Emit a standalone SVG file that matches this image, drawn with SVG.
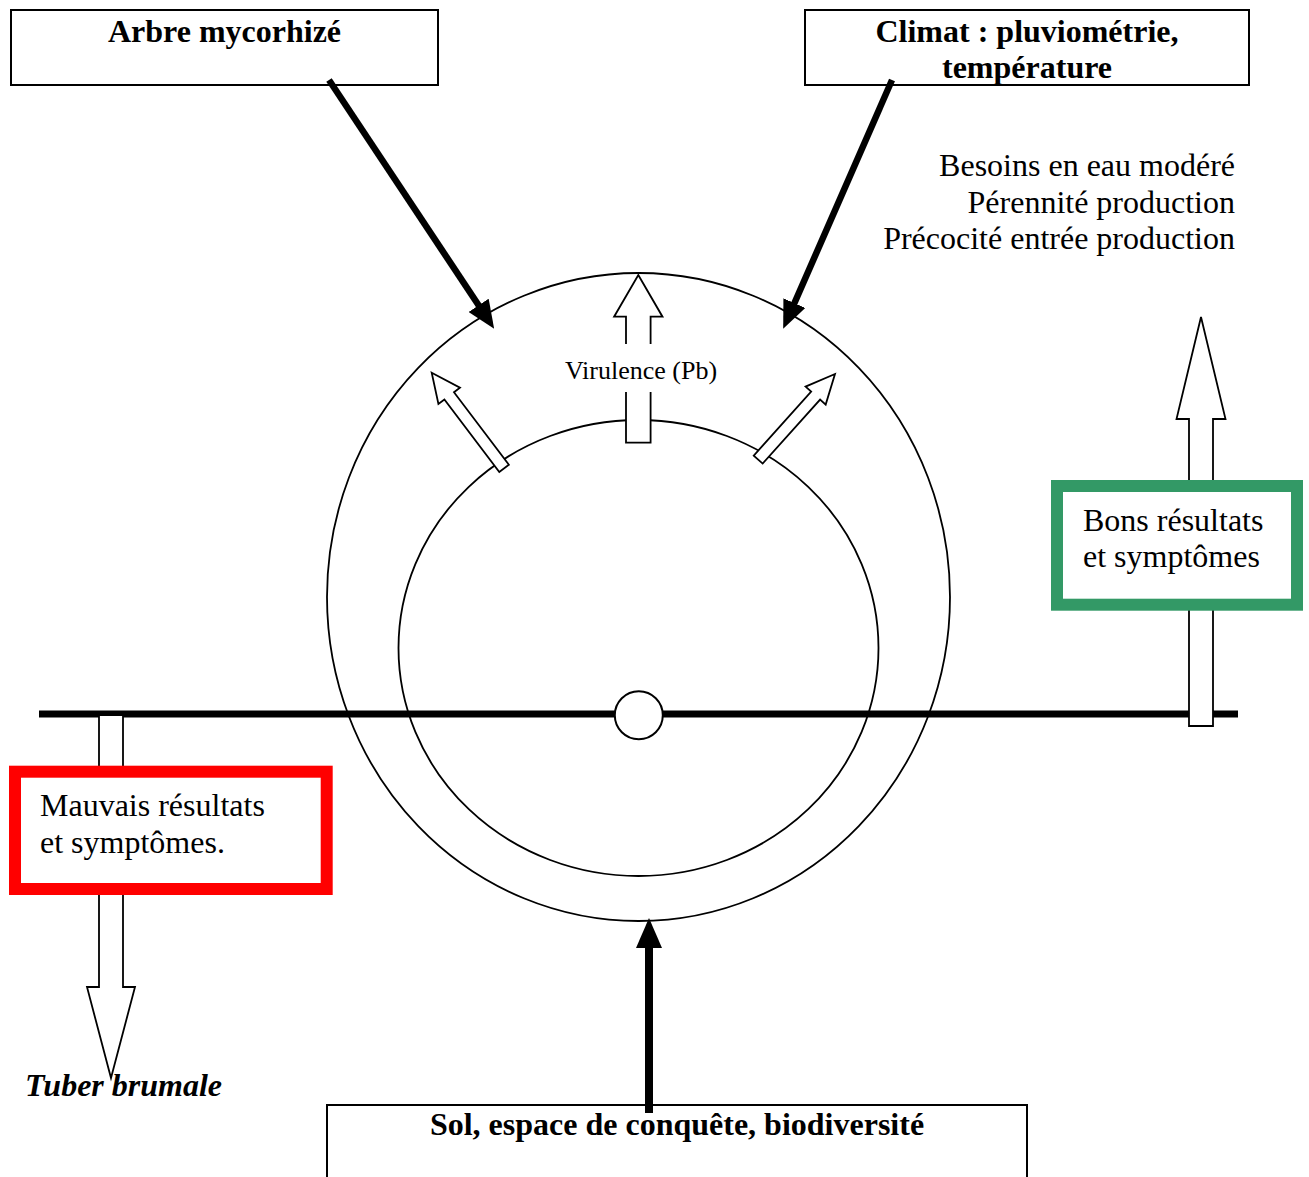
<svg xmlns="http://www.w3.org/2000/svg" width="1309" height="1177" viewBox="0 0 1309 1177">
<style>
  .box { fill: #fff; stroke: #000; stroke-width: 2; }
  .lbl { font-family: "Liberation Serif", "Times New Roman", serif; font-size: 32px; fill: #000; }
  .bold { font-weight: bold; }
  .ring { fill: none; stroke: #000; stroke-width: 1.8; }
  .hollow { fill: #fff; stroke: #000; stroke-width: 1.8; stroke-linejoin: miter; }
  .thick { stroke: #000; fill: none; }
</style>
<defs>
  <marker id="head" markerUnits="userSpaceOnUse" markerWidth="28" markerHeight="24" viewBox="0 0 28 24" refX="14" refY="12" orient="auto">
    <path d="M0,0 L28,12 L0,24 z" fill="#000"/>
  </marker>
  <marker id="headBig" markerUnits="userSpaceOnUse" markerWidth="30" markerHeight="26" viewBox="0 0 30 26" refX="16" refY="13" orient="auto">
    <path d="M0,0 L30,13 L0,26 z" fill="#000"/>
  </marker>
</defs>

<g id="cycle">
  <ellipse class="ring" cx="638.5" cy="597" rx="311.5" ry="324"/>
  <ellipse class="ring" cx="638.5" cy="648" rx="240" ry="228"/>
</g>

<g id="axis">
  <line x1="39" y1="714" x2="1238" y2="714" stroke="#000" stroke-width="7"/>
  <circle cx="638.8" cy="715.3" r="24" fill="#fff" stroke="#000" stroke-width="2"/>
</g>

<g id="virulence">
  <path class="hollow" transform="translate(638.3,275)" d="M0,0 L24.2,41.7 L12.3,41.7 L12.3,167.7 L-12.3,167.7 L-12.3,41.7 L-24.2,41.7 Z"/>
  <path class="hollow" transform="translate(431.7,372.7) rotate(-37.1)" d="M0,0 L13.5,29 L6,29 L6,120 L-6,120 L-6,29 L-13.5,29 Z"/>
  <path class="hollow" transform="translate(835,374) rotate(41.9)" d="M0,0 L13.5,29 L6,29 L6,115 L-6,115 L-6,29 L-13.5,29 Z"/>
  <rect x="618" y="344" width="40" height="48" fill="#fff"/>
  <text class="lbl" x="641" y="379" text-anchor="middle" style="font-size:26px">Virulence (Pb)</text>
</g>

<g id="arbre">
  <rect class="box" x="11" y="10" width="427" height="75"/>
  <text class="lbl bold" x="224.5" y="42" text-anchor="middle">Arbre mycorhizé</text>
</g>

<g id="climat">
  <rect class="box" x="805" y="10" width="444" height="75"/>
  <text class="lbl bold" x="1027" y="42" text-anchor="middle">Climat : pluviométrie,</text>
  <text class="lbl bold" x="1027" y="78" text-anchor="middle">température</text>
</g>

<g id="sol">
  <rect class="box" x="327" y="1105" width="700" height="100"/>
  <text class="lbl bold" x="677" y="1135" text-anchor="middle">Sol, espace de conquête, biodiversité</text>
</g>

<g id="connectors">
  <line class="thick" x1="329" y1="80" x2="486.4" y2="317" stroke-width="6.5" marker-end="url(#head)"/>
  <line class="thick" x1="892" y1="80" x2="788.8" y2="316" stroke-width="6.5" marker-end="url(#head)"/>
  <line class="thick" x1="649" y1="1113" x2="649" y2="932" stroke-width="8" marker-end="url(#headBig)"/>
  <path class="hollow" transform="translate(1201,317)" d="M0,0 L24.5,102 L12,102 L12,409 L-12,409 L-12,102 L-24.5,102 Z"/>
  <path class="hollow" transform="translate(111,1078) rotate(180)" d="M0,0 L24,91 L12,91 L12,363 L-12,363 L-12,91 L-24,91 Z"/>
</g>

<g id="objectifs">
  <text class="lbl" x="1235" y="176" text-anchor="end">Besoins en eau modéré</text>
  <text class="lbl" x="1235" y="212.5" text-anchor="end">Pérennité production</text>
  <text class="lbl" x="1235" y="249" text-anchor="end">Précocité entrée production</text>
</g>

<g id="bons">
  <rect x="1057" y="486" width="240" height="118.7" fill="#fff" stroke="#339966" stroke-width="12"/>
  <text class="lbl" x="1083" y="531">Bons résultats</text>
  <text class="lbl" x="1083" y="567">et symptômes</text>
</g>

<g id="mauvais">
  <rect x="15" y="771.7" width="311.7" height="117.3" fill="#fff" stroke="#ff0000" stroke-width="12"/>
  <text class="lbl" x="40" y="816">Mauvais résultats</text>
  <text class="lbl" x="40" y="853">et symptômes.</text>
</g>

<g id="tuber">
  <text class="lbl bold" x="25" y="1096" font-style="italic">Tuber brumale</text>
</g>
</svg>
